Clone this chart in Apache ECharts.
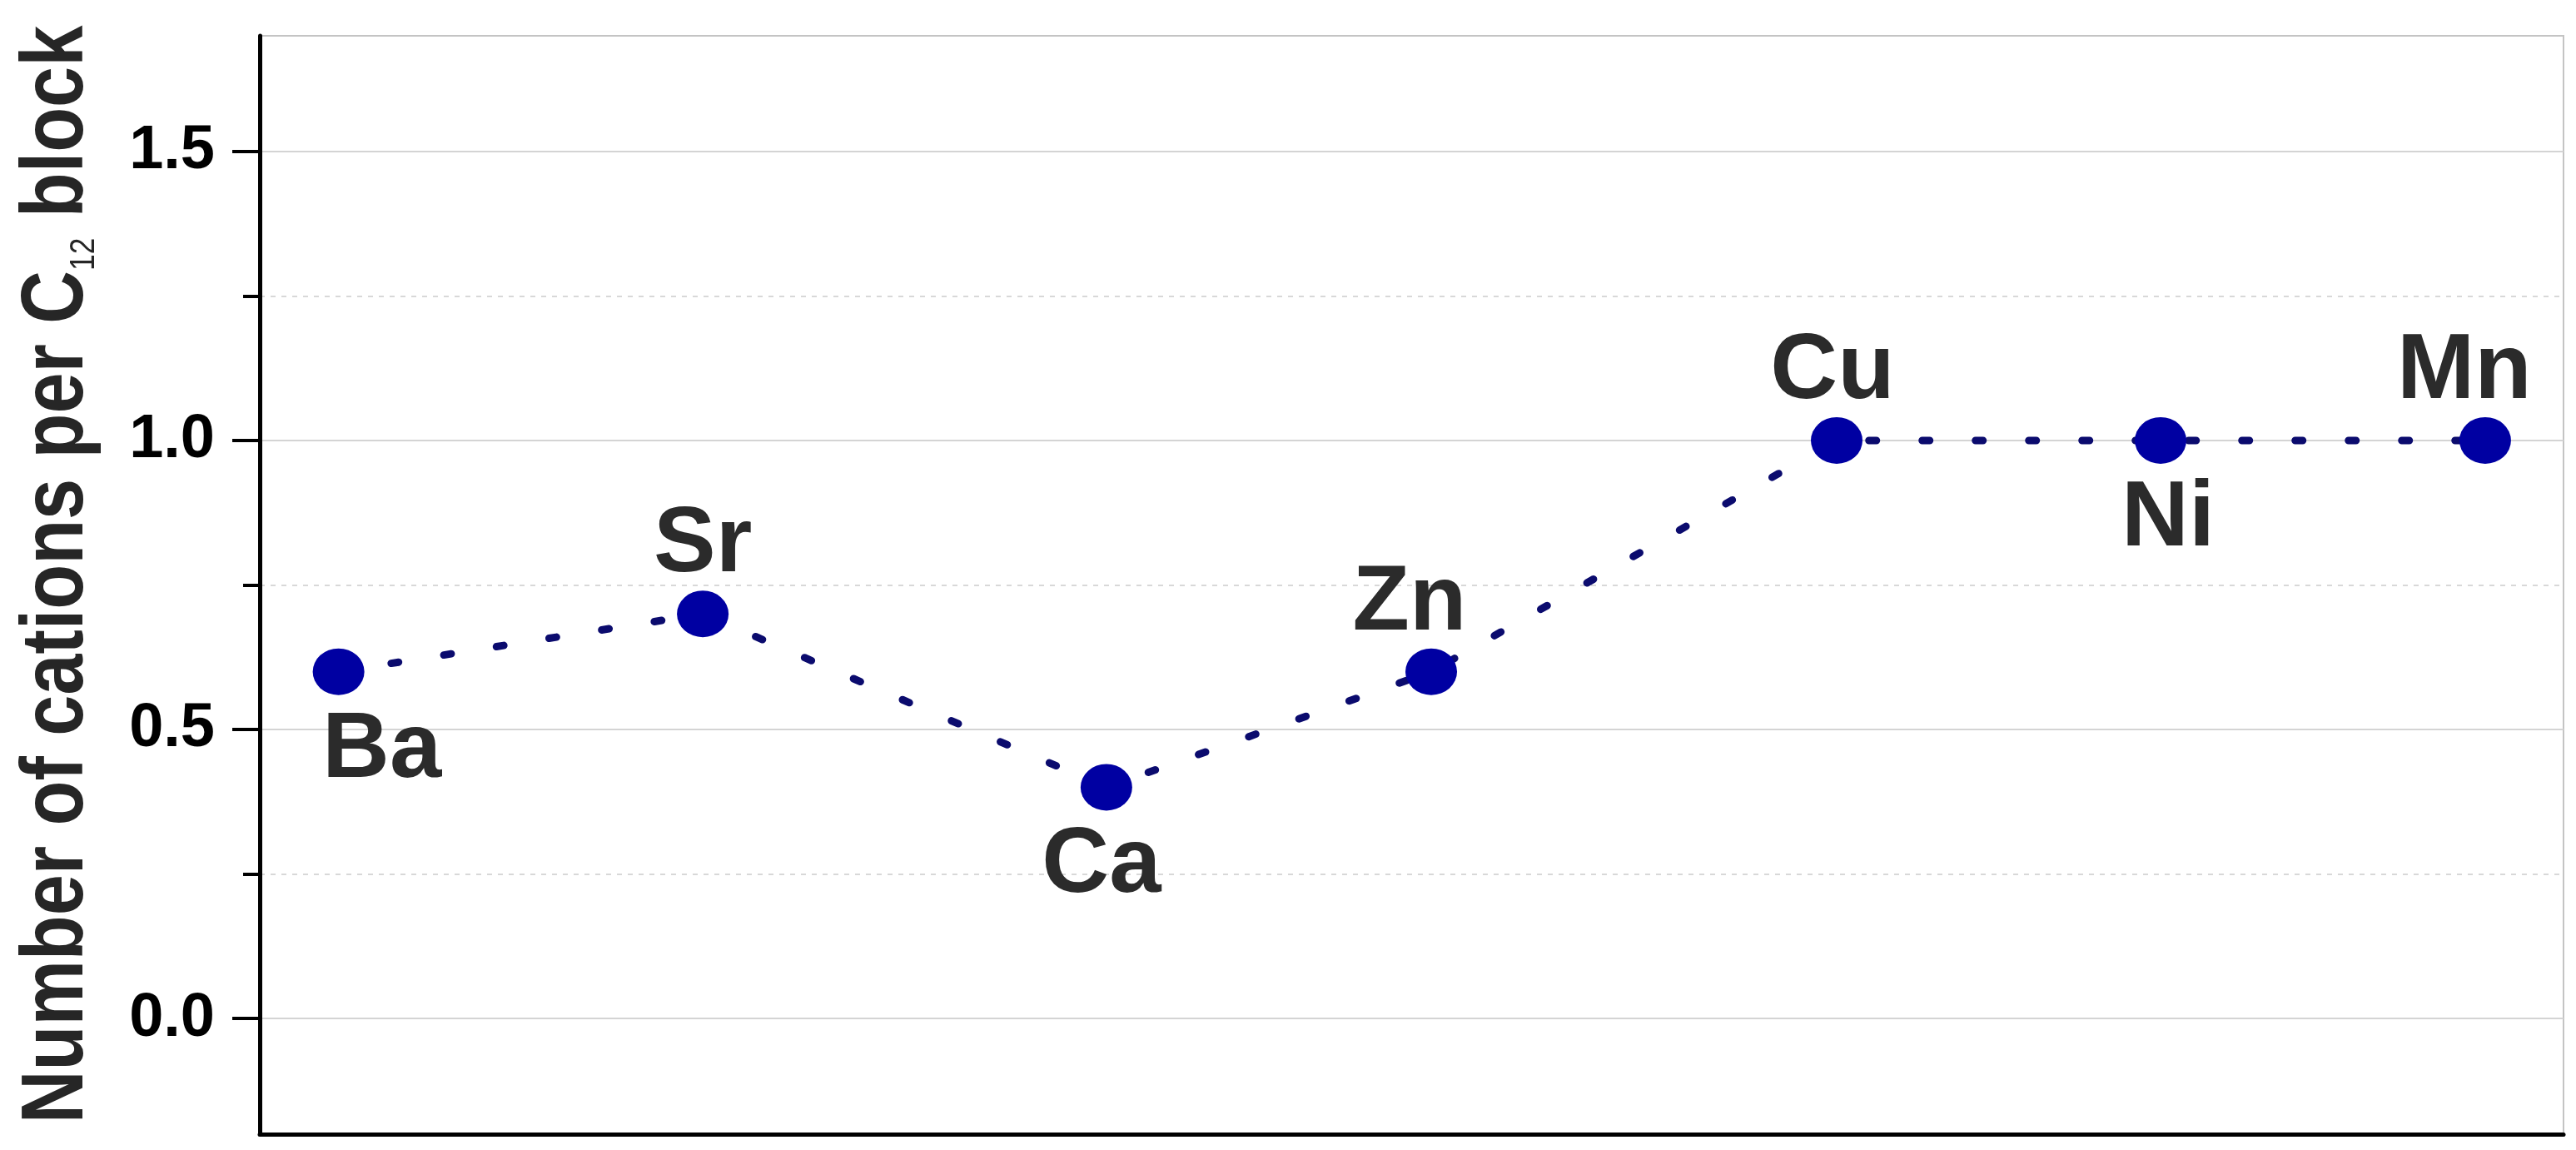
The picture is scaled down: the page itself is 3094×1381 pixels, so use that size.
<!DOCTYPE html>
<html>
<head>
	<meta charset="utf-8">
	<title>Cations per C12 block</title>
	<script src="https://cdn.jsdelivr.net/npm/echarts@6/dist/echarts.min.js"></script>
	<style type="text/css">
		html, body {
			margin: 0;
			height: 100%;
			background: #fff;
		}
	</style>
</head>
<body>
	<div id="main" style="width: 3094px;height:1381px;"></div>
	<script type="text/javascript">

	// data
	var elements = ['Ba', 'Sr', 'Ca', 'Zn', 'Cu', 'Ni', 'Mn'];
	// horizontal place of each point, in % of the plot width (x axis has no scale shown)
	var xPos = [3.42, 19.23, 36.75, 50.85, 68.45, 82.51, 96.60];
	var cations = [0.6, 0.7, 0.4, 0.6, 1.0, 1.0, 1.0];
	var yTicks = [0, 0.5, 1.0, 1.5];
	var yMinorTicks = [0.25, 0.75, 1.25];
	var yTitle = ['Number of cations per C', '12', ' block'];

	// label placement (style only)
	var labelSide = ['bottom', 'top', 'bottom', 'top', 'top', 'bottom', 'top'];
	var labelDx = [52, 0, -6, -26, -5, 9, -25];

	var seriesData = [];
	for (var i = 0; i < elements.length; i++) {
		seriesData.push({
			name: elements[i],
			value: [xPos[i], cations[i]],
			label: {
				position: labelSide[i],
				distance: labelSide[i] == 'top' ? -2 : 11,
				offset: [labelDx[i], 0]
			}
		});
	}

	var titleFont = "'Liberation Sans', Arial, sans-serif";

	var dom = document.getElementById("main");
	var myChart = echarts.init(dom);
	var option = {
		animation: false,
		grid: {
			left: 312,
			right: 15,
			top: 43,
			bottom: 19,
			show: true,
			borderColor: '#c4c4c4',
			borderWidth: 2,
			outerBoundsMode: 'none'
		},
		// y axis title, squeezed like the narrow bold face of the original
		graphic: [{
			type: 'text',
			x: 70,
			y: 690,
			rotation: Math.PI / 2,
			scaleX: 0.84,
			style: {
				text: '{a|' + yTitle[0] + '}{s|' + yTitle[1] + '}{a|' + yTitle[2] + '}',
				align: 'center',
				verticalAlign: 'middle',
				rich: {
					a: {
						fontFamily: titleFont,
						fontWeight: 'bold',
						fontSize: 105,
						lineHeight: 105,
						fill: '#262626'
					},
					s: {
						fontFamily: titleFont,
						fontSize: 42,
						lineHeight: 20,
						verticalAlign: 'bottom',
						fill: '#262626'
					}
				}
			}
		}],
		xAxis: {
			type: 'value',
			min: 0,
			max: 100,
			axisLine: {
				show: true,
				onZero: false,
				lineStyle: { color: '#000', width: 5 }
			},
			axisTick: { show: false },
			axisLabel: { show: false },
			splitLine: { show: false }
		},
		yAxis: [{
			type: 'value',
			min: -0.2,
			max: 1.7,
			position: 'left',
			z: 3,
			axisLine: {
				show: true,
				lineStyle: { color: '#000', width: 5 }
			},
			axisTick: {
				show: true,
				inside: false,
				length: 33,
				customValues: yTicks,
				lineStyle: { color: '#000', width: 4 }
			},
			axisLabel: {
				customValues: yTicks,
				margin: 54,
				fontFamily: "'Liberation Sans', Arial, sans-serif",
				fontWeight: 'bold',
				fontSize: 74,
				color: '#000',
				formatter: function (v) {
					return v.toFixed(1);
				}
			},
			splitLine: {
				show: true,
				lineStyle: { color: '#d4d4d4', width: 2 }
			}
		}, {
			// minor ticks and dashed minor grid lines
			type: 'value',
			min: -0.2,
			max: 1.7,
			position: 'left',
			z: 2,
			axisLine: { show: false },
			axisTick: {
				show: true,
				inside: false,
				length: 20,
				customValues: yMinorTicks,
				lineStyle: { color: '#000', width: 4 }
			},
			axisLabel: { show: false },
			splitLine: {
				show: true,
				lineStyle: { color: '#d8d8d8', width: 2, type: [6, 7] }
			}
		}],
		series: [{
			type: 'line',
			yAxisIndex: 0,
			data: seriesData,
			symbol: 'circle',
			symbolSize: [62, 56],
			itemStyle: { color: '#0000a2' },
			lineStyle: {
				color: '#0b0b6e',
				width: 9,
				type: [9, 55],
				cap: 'round'
			},
			label: {
				show: true,
				formatter: function (p) {
					return p.name;
				},
				fontFamily: "'Liberation Sans', Arial, sans-serif",
				fontWeight: 'bold',
				fontSize: 112,
				color: '#2b2b2b'
			},
			z: 5
		}]
	};
	myChart.setOption(option);

	</script>
</body>
</html>
